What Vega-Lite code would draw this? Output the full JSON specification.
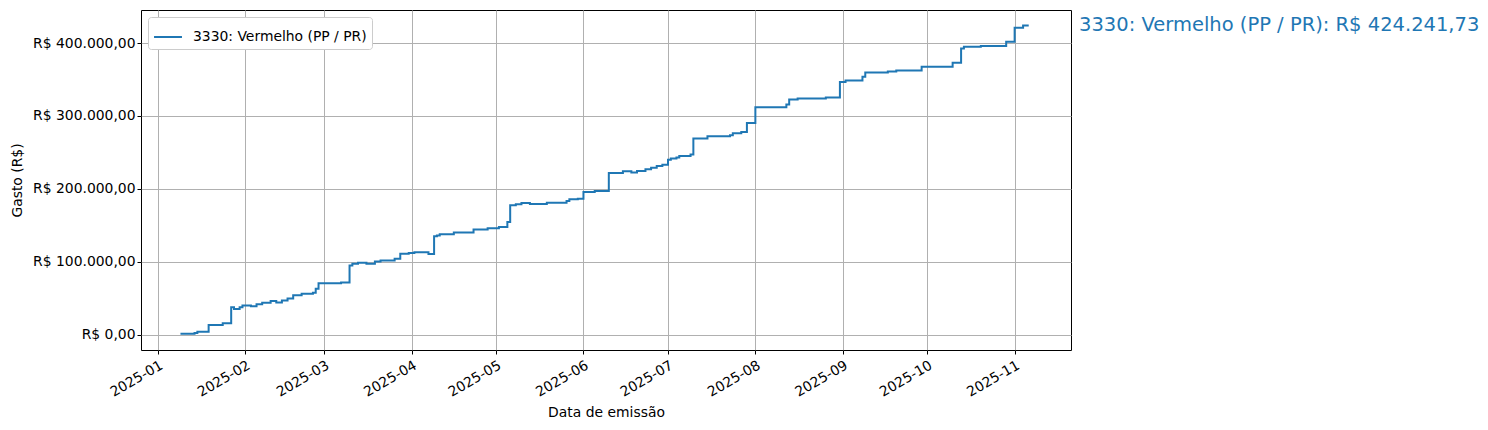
{
  "$schema": "https://vega.github.io/schema/vega-lite/v6.json",
  "description": "Gasto acumulado 3330: Vermelho (PP / PR)",
  "autosize": {"type": "none"},
  "width": 930,
  "height": 340,
  "padding": {"left": 141, "top": 10, "right": 417, "bottom": 80},
  "background": "white",
  "config": {
    "font": "DejaVu Sans",
    "locale": {"number": {"decimal": ",", "thousands": ".", "grouping": [3], "currency": ["R$ ", ""]}},
    "view": {"stroke": "black", "strokeWidth": 1},
    "axis": {
      "labelFontSize": 13.9,
      "titleFontSize": 13.9,
      "titleFontWeight": "normal",
      "labelColor": "black",
      "titleColor": "black",
      "domain": false,
      "tickColor": "black",
      "tickSize": 4,
      "gridColor": "#b0b0b0",
      "gridWidth": 1,
      "gridOpacity": 1
    },
    "legend": {"labelFontSize": 13.9, "labelColor": "black", "labelLimit": 0}
  },
  "datasets": {
    "gasto": [
      {"dia": "2025-01-09", "gasto": 1000, "serie": "3330: Vermelho (PP / PR)"},
      {"dia": "2025-01-14", "gasto": 2000, "serie": "3330: Vermelho (PP / PR)"},
      {"dia": "2025-01-15", "gasto": 4000, "serie": "3330: Vermelho (PP / PR)"},
      {"dia": "2025-01-19", "gasto": 13000, "serie": "3330: Vermelho (PP / PR)"},
      {"dia": "2025-01-24", "gasto": 15500, "serie": "3330: Vermelho (PP / PR)"},
      {"dia": "2025-01-27", "gasto": 37500, "serie": "3330: Vermelho (PP / PR)"},
      {"dia": "2025-01-28", "gasto": 35000, "serie": "3330: Vermelho (PP / PR)"},
      {"dia": "2025-01-30", "gasto": 37500, "serie": "3330: Vermelho (PP / PR)"},
      {"dia": "2025-01-31", "gasto": 40000, "serie": "3330: Vermelho (PP / PR)"},
      {"dia": "2025-02-03", "gasto": 39000, "serie": "3330: Vermelho (PP / PR)"},
      {"dia": "2025-02-05", "gasto": 41500, "serie": "3330: Vermelho (PP / PR)"},
      {"dia": "2025-02-07", "gasto": 43500, "serie": "3330: Vermelho (PP / PR)"},
      {"dia": "2025-02-10", "gasto": 46000, "serie": "3330: Vermelho (PP / PR)"},
      {"dia": "2025-02-12", "gasto": 44000, "serie": "3330: Vermelho (PP / PR)"},
      {"dia": "2025-02-14", "gasto": 46700, "serie": "3330: Vermelho (PP / PR)"},
      {"dia": "2025-02-16", "gasto": 49500, "serie": "3330: Vermelho (PP / PR)"},
      {"dia": "2025-02-18", "gasto": 53800, "serie": "3330: Vermelho (PP / PR)"},
      {"dia": "2025-02-21", "gasto": 56000, "serie": "3330: Vermelho (PP / PR)"},
      {"dia": "2025-02-25", "gasto": 57300, "serie": "3330: Vermelho (PP / PR)"},
      {"dia": "2025-02-26", "gasto": 62800, "serie": "3330: Vermelho (PP / PR)"},
      {"dia": "2025-02-27", "gasto": 70500, "serie": "3330: Vermelho (PP / PR)"},
      {"dia": "2025-03-07", "gasto": 71500, "serie": "3330: Vermelho (PP / PR)"},
      {"dia": "2025-03-10", "gasto": 94800, "serie": "3330: Vermelho (PP / PR)"},
      {"dia": "2025-03-11", "gasto": 97200, "serie": "3330: Vermelho (PP / PR)"},
      {"dia": "2025-03-13", "gasto": 98500, "serie": "3330: Vermelho (PP / PR)"},
      {"dia": "2025-03-16", "gasto": 97200, "serie": "3330: Vermelho (PP / PR)"},
      {"dia": "2025-03-19", "gasto": 100300, "serie": "3330: Vermelho (PP / PR)"},
      {"dia": "2025-03-21", "gasto": 101700, "serie": "3330: Vermelho (PP / PR)"},
      {"dia": "2025-03-26", "gasto": 104000, "serie": "3330: Vermelho (PP / PR)"},
      {"dia": "2025-03-28", "gasto": 111000, "serie": "3330: Vermelho (PP / PR)"},
      {"dia": "2025-03-31", "gasto": 111800, "serie": "3330: Vermelho (PP / PR)"},
      {"dia": "2025-04-02", "gasto": 113000, "serie": "3330: Vermelho (PP / PR)"},
      {"dia": "2025-04-07", "gasto": 110400, "serie": "3330: Vermelho (PP / PR)"},
      {"dia": "2025-04-09", "gasto": 135000, "serie": "3330: Vermelho (PP / PR)"},
      {"dia": "2025-04-10", "gasto": 136000, "serie": "3330: Vermelho (PP / PR)"},
      {"dia": "2025-04-11", "gasto": 137500, "serie": "3330: Vermelho (PP / PR)"},
      {"dia": "2025-04-16", "gasto": 140000, "serie": "3330: Vermelho (PP / PR)"},
      {"dia": "2025-04-23", "gasto": 144300, "serie": "3330: Vermelho (PP / PR)"},
      {"dia": "2025-04-28", "gasto": 146000, "serie": "3330: Vermelho (PP / PR)"},
      {"dia": "2025-05-02", "gasto": 147500, "serie": "3330: Vermelho (PP / PR)"},
      {"dia": "2025-05-05", "gasto": 154400, "serie": "3330: Vermelho (PP / PR)"},
      {"dia": "2025-05-06", "gasto": 177300, "serie": "3330: Vermelho (PP / PR)"},
      {"dia": "2025-05-08", "gasto": 179000, "serie": "3330: Vermelho (PP / PR)"},
      {"dia": "2025-05-10", "gasto": 180500, "serie": "3330: Vermelho (PP / PR)"},
      {"dia": "2025-05-13", "gasto": 179200, "serie": "3330: Vermelho (PP / PR)"},
      {"dia": "2025-05-19", "gasto": 181000, "serie": "3330: Vermelho (PP / PR)"},
      {"dia": "2025-05-26", "gasto": 183200, "serie": "3330: Vermelho (PP / PR)"},
      {"dia": "2025-05-27", "gasto": 185600, "serie": "3330: Vermelho (PP / PR)"},
      {"dia": "2025-05-30", "gasto": 186500, "serie": "3330: Vermelho (PP / PR)"},
      {"dia": "2025-06-01", "gasto": 195600, "serie": "3330: Vermelho (PP / PR)"},
      {"dia": "2025-06-05", "gasto": 197000, "serie": "3330: Vermelho (PP / PR)"},
      {"dia": "2025-06-10", "gasto": 221700, "serie": "3330: Vermelho (PP / PR)"},
      {"dia": "2025-06-15", "gasto": 224000, "serie": "3330: Vermelho (PP / PR)"},
      {"dia": "2025-06-18", "gasto": 222300, "serie": "3330: Vermelho (PP / PR)"},
      {"dia": "2025-06-20", "gasto": 224500, "serie": "3330: Vermelho (PP / PR)"},
      {"dia": "2025-06-23", "gasto": 226800, "serie": "3330: Vermelho (PP / PR)"},
      {"dia": "2025-06-25", "gasto": 229000, "serie": "3330: Vermelho (PP / PR)"},
      {"dia": "2025-06-27", "gasto": 231300, "serie": "3330: Vermelho (PP / PR)"},
      {"dia": "2025-06-29", "gasto": 233000, "serie": "3330: Vermelho (PP / PR)"},
      {"dia": "2025-07-01", "gasto": 240000, "serie": "3330: Vermelho (PP / PR)"},
      {"dia": "2025-07-02", "gasto": 241500, "serie": "3330: Vermelho (PP / PR)"},
      {"dia": "2025-07-04", "gasto": 243000, "serie": "3330: Vermelho (PP / PR)"},
      {"dia": "2025-07-05", "gasto": 245000, "serie": "3330: Vermelho (PP / PR)"},
      {"dia": "2025-07-09", "gasto": 247000, "serie": "3330: Vermelho (PP / PR)"},
      {"dia": "2025-07-10", "gasto": 269000, "serie": "3330: Vermelho (PP / PR)"},
      {"dia": "2025-07-15", "gasto": 272000, "serie": "3330: Vermelho (PP / PR)"},
      {"dia": "2025-07-23", "gasto": 273500, "serie": "3330: Vermelho (PP / PR)"},
      {"dia": "2025-07-24", "gasto": 276300, "serie": "3330: Vermelho (PP / PR)"},
      {"dia": "2025-07-27", "gasto": 278000, "serie": "3330: Vermelho (PP / PR)"},
      {"dia": "2025-07-29", "gasto": 290400, "serie": "3330: Vermelho (PP / PR)"},
      {"dia": "2025-08-01", "gasto": 312000, "serie": "3330: Vermelho (PP / PR)"},
      {"dia": "2025-08-12", "gasto": 315700, "serie": "3330: Vermelho (PP / PR)"},
      {"dia": "2025-08-13", "gasto": 322600, "serie": "3330: Vermelho (PP / PR)"},
      {"dia": "2025-08-16", "gasto": 324000, "serie": "3330: Vermelho (PP / PR)"},
      {"dia": "2025-08-26", "gasto": 325400, "serie": "3330: Vermelho (PP / PR)"},
      {"dia": "2025-08-31", "gasto": 346800, "serie": "3330: Vermelho (PP / PR)"},
      {"dia": "2025-09-02", "gasto": 348700, "serie": "3330: Vermelho (PP / PR)"},
      {"dia": "2025-09-08", "gasto": 353700, "serie": "3330: Vermelho (PP / PR)"},
      {"dia": "2025-09-09", "gasto": 359700, "serie": "3330: Vermelho (PP / PR)"},
      {"dia": "2025-09-17", "gasto": 361000, "serie": "3330: Vermelho (PP / PR)"},
      {"dia": "2025-09-20", "gasto": 362400, "serie": "3330: Vermelho (PP / PR)"},
      {"dia": "2025-09-29", "gasto": 367400, "serie": "3330: Vermelho (PP / PR)"},
      {"dia": "2025-10-10", "gasto": 373000, "serie": "3330: Vermelho (PP / PR)"},
      {"dia": "2025-10-13", "gasto": 392700, "serie": "3330: Vermelho (PP / PR)"},
      {"dia": "2025-10-14", "gasto": 395000, "serie": "3330: Vermelho (PP / PR)"},
      {"dia": "2025-10-20", "gasto": 396000, "serie": "3330: Vermelho (PP / PR)"},
      {"dia": "2025-10-29", "gasto": 401800, "serie": "3330: Vermelho (PP / PR)"},
      {"dia": "2025-11-01", "gasto": 421000, "serie": "3330: Vermelho (PP / PR)"},
      {"dia": "2025-11-04", "gasto": 424241.73, "serie": "3330: Vermelho (PP / PR)"},
      {"dia": "2025-11-06", "gasto": 424241.73, "serie": "3330: Vermelho (PP / PR)"}
    ],
    "rotulo": [
      {"dia": "2025-11-21", "gasto": 424241.73, "texto": "3330: Vermelho (PP / PR): R$ 424.241,73"}
    ]
  },
  "encoding": {
    "x": {
      "field": "dia",
      "type": "temporal",
      "title": "Data de emissão",
      "scale": {
        "type": "utc",
        "domain": [
          {"year": 2024, "month": 12, "date": 26, "utc": true},
          {"year": 2025, "month": 11, "date": 21, "utc": true}
        ]
      },
      "axis": {
        "format": "%Y-%m",
        "tickCount": {"interval": "month", "step": 1},
        "labelAngle": -30,
        "labelAlign": "right",
        "labelBaseline": "top",
        "labelPadding": 4,
        "titlePadding": 6,
        "labelFlush": false,
        "labelOverlap": false
      }
    },
    "y": {
      "field": "gasto",
      "type": "quantitative",
      "title": "Gasto (R$)",
      "scale": {"domain": [-21212, 445454], "nice": false, "zero": false},
      "axis": {
        "format": "$,.2f",
        "values": [0, 100000, 200000, 300000, 400000],
        "titlePadding": 8
      }
    }
  },
  "layer": [
    {
      "data": {"name": "gasto"},
      "mark": {"type": "line", "interpolate": "step-after", "strokeWidth": 2},
      "encoding": {
        "color": {
          "field": "serie",
          "type": "nominal",
          "scale": {"range": ["#1f77b4"]},
          "legend": {
            "title": null,
            "orient": "top-left",
            "offset": 7,
            "symbolType": "stroke",
            "symbolSize": 780,
            "symbolStrokeWidth": 2,
            "labelOffset": 10,
            "fillColor": "white",
            "strokeColor": "#cccccc",
            "cornerRadius": 3,
            "padding": 5
          }
        }
      }
    },
    {
      "data": {"name": "rotulo"},
      "mark": {"type": "text", "align": "left", "baseline": "middle", "dx": 8, "fontSize": 19.5, "color": "#1f77b4"},
      "encoding": {
        "text": {"field": "texto", "type": "nominal"}
      }
    }
  ]
}
